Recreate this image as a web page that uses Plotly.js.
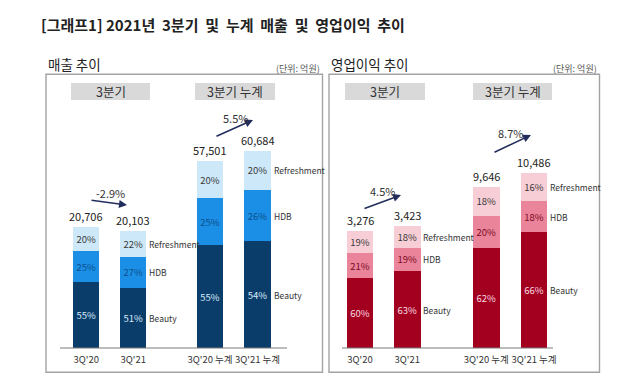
<!DOCTYPE html>
<html><head><meta charset="utf-8">
<script src="https://cdn.plot.ly/plotly-3.0.1.min.js"></script>
<style>body{margin:0;background:#fff}#chart{width:624px;height:391px}</style>
</head><body><div id="chart"></div>
<script>
// ---- data ----
const segments = ["Beauty", "HDB", "Refreshment"];
const quarterCats = ["3Q'20", "3Q'21"];
const cumCats = ["3Q'20 누계", "3Q'21 누계"];
const salesQuarterTotals = [20706, 20103];
const salesCumTotals = [57501, 60684];
const profitQuarterTotals = [3276, 3423];
const profitCumTotals = [9646, 10486];
// shares (%) per bar: [Beauty, HDB, Refreshment]
const salesQuarterShares = [[55, 25, 20], [51, 27, 22]];
const salesCumShares = [[55, 25, 20], [54, 26, 20]];
const profitQuarterShares = [[60, 21, 19], [63, 19, 18]];
const profitCumShares = [[62, 20, 18], [66, 18, 16]];
const salesGrowth = ["-2.9%", "5.5%"];
const profitGrowth = ["4.5%", "8.7%"];

// ---- layout helpers ----
const W = 624, H = 391;
const px = x => x / W, py = y => 1 - y / H;
const FONT = "'Noto Sans CJK KR', 'Noto Sans', sans-serif";
const blue = {colors: ["#0b3d6b", "#1b8fe5", "#cde8f8"], text: ["#d6eafa", "#0d4f90", "#3a3a3a"]};
const red = {colors: ["#a3001f", "#e9849b", "#f8ced6"], text: ["#fbdbe1", "#7c0a20", "#3a3a3a"]};

const traces = [];
const annotations = [];
function panel(cats, totals, shares, xa, ya, pal) {
  segments.forEach((seg, s) => {
    traces.push({
      type: 'bar', x: cats, xaxis: xa, yaxis: ya, width: 0.56,
      y: totals.map((t, i) => t * shares[i][s] / 100),
      text: shares.map(r => r[s] + '%'),
      textposition: 'inside', insidetextanchor: 'middle', textangle: 0,
      textfont: {family: FONT, size: 9.5, color: pal.text[s]},
      marker: {color: pal.colors[s], line: {width: 0}},
      hoverinfo: 'skip', showlegend: false, cliponaxis: false
    });
  });
  totals.forEach((t, i) => {
    annotations.push({xref: xa, yref: ya, x: cats[i], y: t, xanchor: 'center', yanchor: 'bottom', yshift: 1,
      text: t.toLocaleString('en-US'), showarrow: false, font: {family: FONT, size: 11, color: '#222'}});
  });
  const last = totals.length - 1;
  let acc = 0;
  segments.forEach((seg, s) => {
    const v = totals[last] * shares[last][s] / 100;
    annotations.push({xref: xa, yref: ya, x: cats[last], y: acc + v / 2, xanchor: 'left', yanchor: 'middle', xshift: 14,
      text: seg, showarrow: false, font: {family: FONT, size: 8.5, color: '#333'}});
    acc += v;
  });
}
panel(quarterCats, salesQuarterTotals, salesQuarterShares, 'x', 'y', blue);
panel(cumCats, salesCumTotals, salesCumShares, 'x2', 'y2', blue);
panel(quarterCats, profitQuarterTotals, profitQuarterShares, 'x3', 'y3', red);
panel(cumCats, profitCumTotals, profitCumShares, 'x4', 'y4', red);

// growth arrows + labels
function arrow(tx, ty, hx, hy, label, lx, ly) {
  annotations.push({xref: 'paper', yref: 'paper', x: px(hx), y: py(hy), ax: tx - hx, ay: ty - hy,
    showarrow: true, arrowhead: 2, arrowsize: 1, arrowwidth: 1.6, arrowcolor: '#232d5c', text: ''});
  annotations.push({xref: 'paper', yref: 'paper', x: px(lx), y: py(ly), xanchor: 'center', yanchor: 'middle',
    text: label, showarrow: false, font: {family: FONT, size: 11, color: '#333'}});
}
arrow(90, 200, 127, 205, salesGrowth[0], 110, 193);
arrow(215, 137, 253, 120, salesGrowth[1], 235, 118);
arrow(363, 209, 401, 195, profitGrowth[0], 382, 191);
arrow(493, 153, 531, 135, profitGrowth[1], 510, 133);

// titles and header texts
function txt(x, y, t, size, opts) {
  annotations.push(Object.assign({xref: 'paper', yref: 'paper', x: px(x), y: py(y), text: t, showarrow: false,
    xanchor: 'left', yanchor: 'middle', font: {family: FONT, size: size, color: '#222'}}, opts || {}));
}
txt(39, 25, "<b>[그래프1] 2021년&nbsp; 3분기&nbsp; 및&nbsp; 누계&nbsp; 매출&nbsp; 및&nbsp; 영업이익&nbsp; 추이</b>", 15);
txt(46, 64, "매출 추이", 13.5);
txt(329, 64, "영업이익 추이", 13.5);
txt(322, 68, "(단위: 억원)", 9, {xanchor: 'right', font: {family: FONT, size: 9, color: '#555'}});
txt(599, 68, "(단위: 억원)", 9, {xanchor: 'right', font: {family: FONT, size: 9, color: '#555'}});
const headers = [[71, 150, "3분기"], [195, 275, "3분기 누계"], [345, 425, "3분기"], [473, 552, "3분기 누계"]];

const shapes = [];
headers.forEach(h => {
  shapes.push({type: 'rect', xref: 'paper', yref: 'paper', x0: px(h[0]), x1: px(h[1]), y0: py(100), y1: py(83),
    fillcolor: '#d9d9d9', line: {width: 0}, layer: 'below'});
  txt((h[0] + h[1]) / 2, 91.5, h[2], 12.5, {xanchor: 'center', font: {family: FONT, size: 12.5, color: '#333'}});
});
// panel frames
[[46, 322.5], [329, 599.5]].forEach(b => shapes.push({type: 'rect', xref: 'paper', yref: 'paper',
  x0: px(b[0]), x1: px(b[1]), y0: py(372.3), y1: py(74.3), line: {color: '#a3a3a3', width: 1.4}}));
// baselines
[[60, 287], [342, 553]].forEach(b => shapes.push({type: 'line', xref: 'paper', yref: 'paper',
  x0: px(b[0]), x1: px(b[1]), y0: py(348), y1: py(348), line: {color: '#7a7a7a', width: 1}}));

function xax(c0, c1) {
  const half = (c1 - c0) / 2;
  return {domain: [px(c0 - half), px(c1 + half)], type: 'category', range: [-0.5, 1.5], fixedrange: true,
    showgrid: false, zeroline: false, showline: false, ticks: '', ticklen: 0, tickangle: 0, ticklabelstandoff: 4,
    tickfont: {family: FONT, size: 9.5, color: '#333'}};
}
function yax(max, anchor) {
  return {domain: [py(348), py(80)], range: [0, max], visible: false, fixedrange: true, anchor: anchor};
}
const layout = {
  width: W, height: H, margin: {l: 0, r: 0, t: 0, b: 0}, paper_bgcolor: '#fff', plot_bgcolor: 'rgba(0,0,0,0)',
  barmode: 'stack', showlegend: false, font: {family: FONT},
  xaxis: Object.assign(xax(86.3, 133.3), {anchor: 'y'}),
  xaxis2: Object.assign(xax(210, 257.5), {anchor: 'y2'}),
  xaxis3: Object.assign(xax(360, 407.3), {anchor: 'y3'}),
  xaxis4: Object.assign(xax(486.3, 534), {anchor: 'y4'}),
  yaxis: yax(45970, 'x'), yaxis2: yax(82360, 'x2'), yaxis3: yax(7511, 'x3'), yaxis4: yax(16030, 'x4'),
  annotations: annotations, shapes: shapes
};
Plotly.newPlot('chart', traces, layout, {staticPlot: true, displayModeBar: false});
</script></body></html>
